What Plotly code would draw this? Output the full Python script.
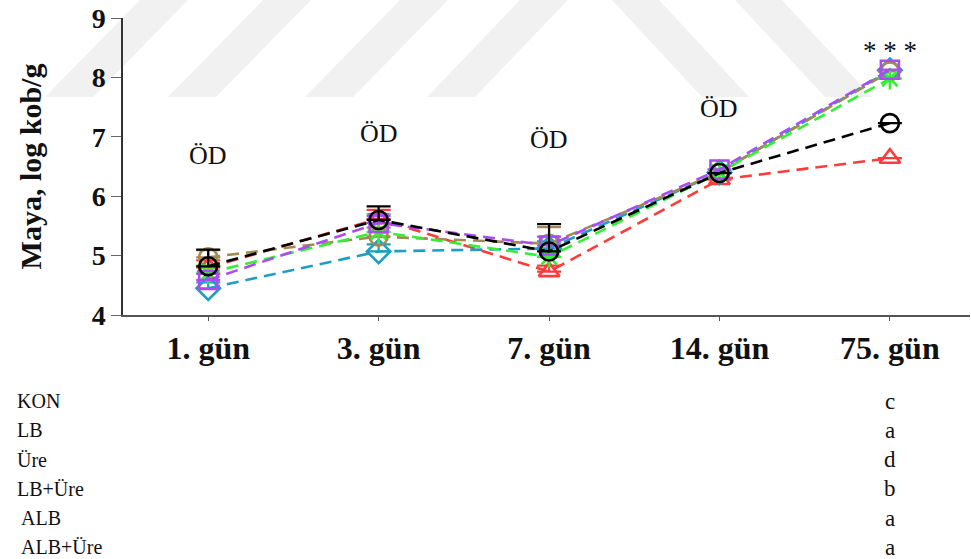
import plotly.graph_objects as go

# Sampling days and treatment groups
days = ["1. gün", "3. gün", "7. gün", "14. gün", "75. gün"]
groups = ["KON", "LB", "Üre", "LB+Üre", "ALB", "ALB+Üre"]
letters = ["c", "a", "d", "b", "a", "a"]

# Yeast counts (log cfu/g) per group
kon = [4.82, 5.60, 5.07, 6.39, 7.23]
lb = [4.80, 5.62, 4.73, 6.28, 6.64]
ure = [4.45, 5.07, 5.12, 6.40, 8.12]
lb_ure = [4.97, 5.32, 5.20, 6.40, 8.10]
alb = [4.71, 5.40, 4.98, 6.40, 7.98]
alb_ure = [4.59, 5.55, 5.17, 6.45, 8.13]

# Upper standard-error bars
kon_err = [0.28, 0.23, 0.46, 0.0, 0.0]
lb_err = [0.12, 0.15, 0.10, 0.0, 0.0]
ure_err = [0.10, 0.12, 0.12, 0.0, 0.0]
lb_ure_err = [0.12, 0.15, 0.28, 0.0, 0.0]
alb_err = [0.12, 0.30, 0.22, 0.0, 0.0]
alb_ure_err = [0.10, 0.12, 0.15, 0.0, 0.0]

# Significance labels above each day
sig_text = ["ÖD", "ÖD", "ÖD", "ÖD", "* * *"]
sig_y = [6.68, 7.06, 6.95, 7.48, 8.45]

SERIF = "'Liberation Serif', 'Times New Roman', serif"

styles = [
    # values, errors, colour, marker symbol
    (lb, lb_err, "#ff3b3b", "triangle-up-open"),
    (ure, ure_err, "#1f9ec4", "diamond-open"),
    (lb_ure, lb_ure_err, "#a38a55", "circle-open"),
    (alb, alb_err, "#33f033", "asterisk-open"),
    (alb_ure, alb_ure_err, "#a94cf5", "square-open"),
    (kon, kon_err, "#000000", "circle-open"),
]
names = ["LB", "Üre", "LB+Üre", "ALB", "ALB+Üre", "KON"]

fig = go.Figure()

for (vals, errs, col, sym), nm in zip(styles, names):
    fig.add_trace(go.Scatter(
        x=days, y=vals, name=nm, mode="lines+markers",
        line=dict(color=col, width=2.6, dash="12px,7px"),
        marker=dict(symbol=sym, size=18, color=col, line=dict(color=col, width=2.6)),
        error_y=dict(type="data", symmetric=False, array=errs,
                     arrayminus=[0] * len(errs), color=col, thickness=2.2, width=12),
        showlegend=False,
    ))

# Faint diagonal background stripes
stripe_color = "#f1f1f1"
fwd = [(45, 140), (168, 263), (305, 400), (427, 520)]
bwd = [(612, 702), (735, 825)]
W, H = 971, 559
L, T, PH, PW = 123, 18, 297, 847


def px_to_paper(px, py):
    return (px - L) / PW, (T + PH - py) / PH


for bx, tx in fwd:
    pts = [(bx, 97), (bx + 48, 97), (tx + 48, 0), (tx, 0)]
    pp = [px_to_paper(a, b) for a, b in pts]
    path = "M " + " L ".join(f"{a},{b}" for a, b in pp) + " Z"
    fig.add_shape(type="path", path=path, xref="paper", yref="paper",
                  fillcolor=stripe_color, line=dict(width=0), layer="below")
for tx, bx in bwd:
    pts = [(tx, 0), (tx + 47, 0), (bx + 47, 97), (bx, 97)]
    pp = [px_to_paper(a, b) for a, b in pts]
    path = "M " + " L ".join(f"{a},{b}" for a, b in pp) + " Z"
    fig.add_shape(type="path", path=path, xref="paper", yref="paper",
                  fillcolor=stripe_color, line=dict(width=0), layer="below")

# Significance labels
for d, t, y in zip(days, sig_text, sig_y):
    fig.add_annotation(x=d, y=y, text=t, showarrow=False,
                       font=dict(family=SERIF, size=26 if t == "ÖD" else 27, color="#111"))

# Group names with overall letters beneath the chart
for i, (g, l) in enumerate(zip(groups, letters)):
    yy = -0.29 - i * 0.0985
    xoff = 0.005 if g.startswith("ALB") else 0.0
    fig.add_annotation(x=-0.128 + xoff, y=yy, xref="paper", yref="paper",
                       text=g, showarrow=False, xanchor="left", yanchor="middle",
                       font=dict(family=SERIF, size=20, color="#111"))
    fig.add_annotation(x=0.905, y=yy, xref="paper", yref="paper",
                       text=l, showarrow=False, xanchor="center", yanchor="middle",
                       font=dict(family=SERIF, size=23, color="#111"))

fig.update_layout(
    width=W, height=H,
    margin=dict(l=L, r=W - L - PW, t=T, b=H - T - PH),
    plot_bgcolor="rgba(0,0,0,0)", paper_bgcolor="white",
    xaxis=dict(
        type="category", range=[-0.5, 4.47],
        showline=True, linecolor="#555", linewidth=1.5,
        ticks="outside", ticklen=4, tickcolor="#555",
        showgrid=False, zeroline=False,
        tickfont=dict(family=SERIF, size=32, color="#111", weight="bold"),
    ),
    yaxis=dict(
        range=[4, 9], tickvals=[4, 5, 6, 7, 8, 9],
        showline=True, linecolor="#333", linewidth=1.5,
        ticks="outside", ticklen=10, tickcolor="#666",
        showgrid=False, zeroline=False,
        tickfont=dict(family=SERIF, size=28, color="#111", weight="bold"),
        title=dict(text="Maya, log kob/g", standoff=41,
                   font=dict(family=SERIF, size=30, color="#111", weight="bold")),
    ),
)

fig.write_html("out.html")
